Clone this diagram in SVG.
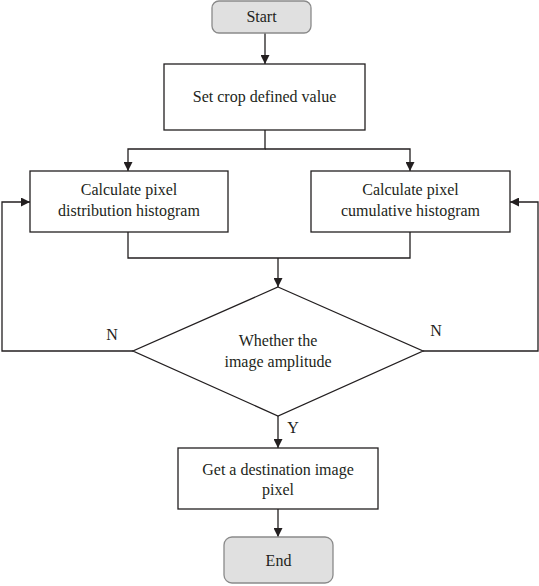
<svg xmlns="http://www.w3.org/2000/svg" width="539" height="586" viewBox="0 0 539 586">
<style>
.t{font-family:"Liberation Serif","Times New Roman",serif;font-size:16px;fill:#231f20;text-anchor:middle}
.box{fill:#fff;stroke:#231f20;stroke-width:1.3}
.term{fill:#e0e0e0;stroke:#8a8a8a;stroke-width:1.3}
.ln{fill:none;stroke:#231f20;stroke-width:1.3}
</style>
<defs>
<marker id="ah" viewBox="0 0 10 10" refX="10" refY="5" markerWidth="9" markerHeight="9" markerUnits="userSpaceOnUse" orient="auto">
<path d="M0,0 L10,5 L0,10 Z" fill="#231f20"/>
</marker>
</defs>
<g id="connectors">
<path class="ln" d="M265,33 V64" marker-end="url(#ah)"/>
<path class="ln" d="M265,130 V149 H128 V171" marker-end="url(#ah)"/>
<path class="ln" d="M265,149 H410 V171" marker-end="url(#ah)"/>
<path class="ln" d="M128,232 V258 H278"/>
<path class="ln" d="M410,232 V258 H278"/>
<path class="ln" d="M278,258 V287" marker-end="url(#ah)"/>
<path class="ln" d="M133,351 H2 V202 H30" marker-end="url(#ah)"/>
<path class="ln" d="M423,351 H538 V202 H510" marker-end="url(#ah)"/>
<path class="ln" d="M278,416 V448" marker-end="url(#ah)"/>
<path class="ln" d="M278,509 V537" marker-end="url(#ah)"/>
<text class="t" x="112" y="340">N</text>
<text class="t" x="436" y="336">N</text>
<text class="t" x="293" y="433">Y</text>
</g>
<g id="start">
<rect class="term" x="212" y="1" width="99" height="32" rx="7"/>
<text class="t" x="261.5" y="22">Start</text>
</g>
<g id="setcrop">
<rect class="box" x="164" y="64" width="201" height="66"/>
<text class="t" x="264.5" y="102">Set crop defined value</text>
</g>
<g id="distribution">
<rect class="box" x="30" y="171" width="198" height="61"/>
<text class="t" x="129" y="195">Calculate pixel</text>
<text class="t" x="129" y="216">distribution histogram</text>
</g>
<g id="cumulative">
<rect class="box" x="311" y="171" width="199" height="61"/>
<text class="t" x="410.5" y="195">Calculate pixel</text>
<text class="t" x="410.5" y="216">cumulative histogram</text>
</g>
<g id="decision">
<path class="box" d="M278,287 L423,351 L278,416 L133,351 Z"/>
<text class="t" x="278" y="346">Whether the</text>
<text class="t" x="278" y="367">image amplitude</text>
</g>
<g id="destination">
<rect class="box" x="178" y="448" width="200" height="61"/>
<text class="t" x="278" y="475">Get a destination image</text>
<text class="t" x="278" y="495">pixel</text>
</g>
<g id="end">
<rect class="term" x="224" y="537" width="109" height="46" rx="8"/>
<text class="t" x="278.5" y="566">End</text>
</g>
</svg>
